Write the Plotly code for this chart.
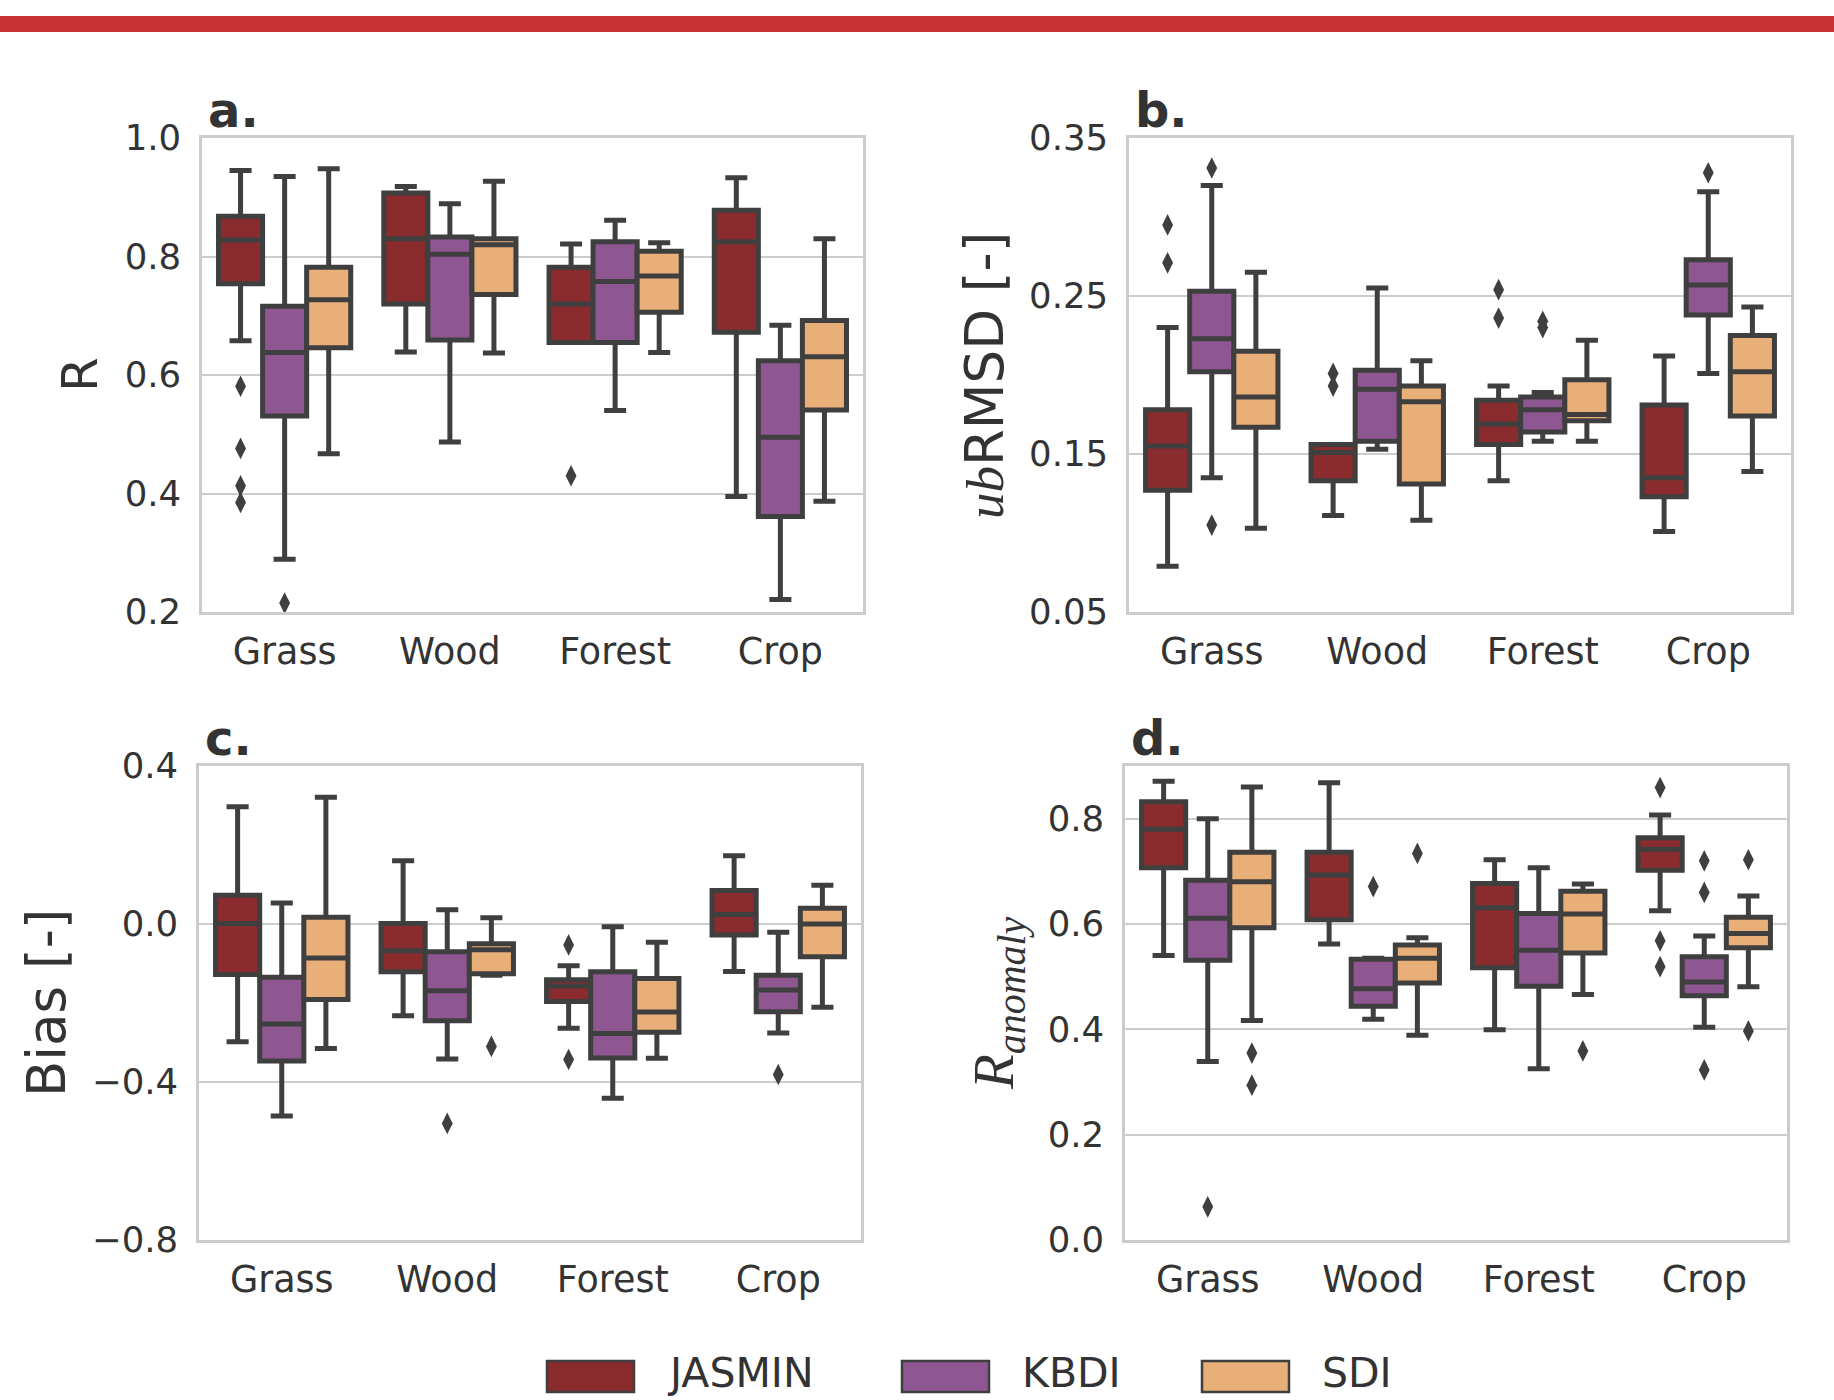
import plotly.graph_objects as go

W, H = 1834, 1400

CATEGORIES = ["Grass", "Wood", "Forest", "Crop"]
MODELS = ["JASMIN", "KBDI", "SDI"]
COLORS = ["#8a2c2e", "#8f5792", "#e9af79"]

# ---- panel a: R  (rows: JASMIN, KBDI, SDI; columns: categories)
R_LOW = [[0.658, 0.639, 0.655, 0.395], [0.289, 0.487, 0.540, 0.221], [0.467, 0.637, 0.638, 0.387]]
R_Q1 = [[0.754, 0.720, 0.655, 0.672], [0.531, 0.659, 0.655, 0.361], [0.646, 0.736, 0.706, 0.541]]
R_MED = [[0.828, 0.830, 0.720, 0.825], [0.638, 0.804, 0.758, 0.495], [0.727, 0.820, 0.767, 0.631]]
R_Q3 = [[0.868, 0.907, 0.782, 0.878], [0.716, 0.833, 0.825, 0.624], [0.782, 0.830, 0.809, 0.692]]
R_HIGH = [[0.945, 0.918, 0.821, 0.933], [0.935, 0.889, 0.861, 0.684], [0.948, 0.927, 0.823, 0.830]]
R_OUT = [
    [[0.581, 0.476, 0.413, 0.385], [], [0.430], []],
    [[0.215], [], [], []],
    [[], [], [], []],
]

# ---- panel b: ubRMSD
U_LOW = [[0.079, 0.111, 0.133, 0.101], [0.135, 0.153, 0.158, 0.201], [0.103, 0.108, 0.158, 0.139]]
U_Q1 = [[0.127, 0.133, 0.156, 0.123], [0.202, 0.158, 0.164, 0.238], [0.167, 0.131, 0.171, 0.174]]
U_MED = [[0.155, 0.151, 0.169, 0.135], [0.223, 0.191, 0.178, 0.257], [0.186, 0.183, 0.175, 0.202]]
U_Q3 = [[0.178, 0.156, 0.184, 0.181], [0.253, 0.203, 0.186, 0.273], [0.215, 0.193, 0.197, 0.225]]
U_HIGH = [[0.230, 0.156, 0.193, 0.212], [0.320, 0.255, 0.189, 0.316], [0.265, 0.209, 0.222, 0.243]]
U_OUT = [
    [[0.295, 0.271], [0.201, 0.193], [0.254, 0.236], []],
    [[0.331, 0.105], [], [0.234, 0.230], [0.328]],
    [[], [], [], []],
]

# ---- panel c: Bias
B_LOW = [[-0.298, -0.232, -0.264, -0.120], [-0.486, -0.342, -0.441, -0.276], [-0.315, -0.130, -0.340, -0.211]]
B_Q1 = [[-0.128, -0.121, -0.196, -0.028], [-0.347, -0.245, -0.339, -0.222], [-0.191, -0.126, -0.274, -0.083]]
B_MED = [[0.001, -0.068, -0.157, 0.024], [-0.253, -0.169, -0.277, -0.167], [-0.086, -0.065, -0.223, 0.000]]
B_Q3 = [[0.073, 0.001, -0.141, 0.085], [-0.135, -0.070, -0.121, -0.130], [0.017, -0.050, -0.138, 0.040]]
B_HIGH = [[0.297, 0.160, -0.106, 0.173], [0.053, 0.036, -0.007, -0.021], [0.321, 0.016, -0.046, 0.098]]
B_OUT = [
    [[], [], [-0.053, -0.343], []],
    [[], [-0.505], [], [-0.381]],
    [[], [-0.310], [], []],
]

# ---- panel d: R anomaly
A_LOW = [[0.540, 0.562, 0.399, 0.625], [0.339, 0.419, 0.325, 0.404], [0.417, 0.389, 0.466, 0.481]]
A_Q1 = [[0.707, 0.608, 0.517, 0.702], [0.531, 0.444, 0.482, 0.464], [0.593, 0.488, 0.545, 0.555]]
A_MED = [[0.780, 0.693, 0.631, 0.742], [0.611, 0.477, 0.550, 0.490], [0.680, 0.535, 0.619, 0.582]]
A_Q3 = [[0.832, 0.736, 0.677, 0.764], [0.683, 0.533, 0.620, 0.538], [0.736, 0.560, 0.662, 0.613]]
A_HIGH = [[0.871, 0.868, 0.722, 0.807], [0.800, 0.535, 0.707, 0.577], [0.860, 0.574, 0.676, 0.653]]
A_OUT = [
    [[], [], [], [0.859, 0.568, 0.519]],
    [[0.063], [0.671], [], [0.720, 0.660, 0.323]],
    [[0.355, 0.294], [0.734], [0.359], [0.722, 0.397]],
]

R_TICKS = [0.2, 0.4, 0.6, 0.8, 1.0]
U_TICKS = [0.05, 0.15, 0.25, 0.35]
B_TICKS = [-0.8, -0.4, 0.0, 0.4]
A_TICKS = [0.0, 0.2, 0.4, 0.6, 0.8]

EDGE = "#3f3f3f"
GRID = "#cccccc"
TXT = "#333333"
FONT = "DejaVu Sans"


def px_x(p):
    return p / W


def px_y(p):
    return 1 - p / H


panels = [
    dict(ax="", low=R_LOW, q1=R_Q1, med=R_MED, q3=R_Q3, high=R_HIGH, out=R_OUT,
         xd=(202, 863), yd=(138, 612), rng=(0.2, 1.0), ticks=R_TICKS, fmt="{:.1f}",
         letter="a.", title="R", tx=80, tsize=50),
    dict(ax="2", low=U_LOW, q1=U_Q1, med=U_MED, q3=U_Q3, high=U_HIGH, out=U_OUT,
         xd=(1129, 1791), yd=(138, 612), rng=(0.05, 0.35), ticks=U_TICKS, fmt="{:.2f}",
         letter="b.",
         title="<span style='font-family:Liberation Serif'><i>ub</i></span>RMSD [-]",
         tx=985, tsize=53),
    dict(ax="3", low=B_LOW, q1=B_Q1, med=B_MED, q3=B_Q3, high=B_HIGH, out=B_OUT,
         xd=(199, 861), yd=(766, 1240), rng=(-0.8, 0.4), ticks=B_TICKS, fmt="{:.1f}",
         letter="c.", title="Bias [-]", tx=46, tsize=53),
    dict(ax="4", low=A_LOW, q1=A_Q1, med=A_MED, q3=A_Q3, high=A_HIGH, out=A_OUT,
         xd=(1125, 1787), yd=(766, 1240), rng=(0.0, 0.9), ticks=A_TICKS, fmt="{:.1f}",
         letter="d.",
         title="<span style='font-family:Liberation Serif'><i>R</i><sub><i>anomaly</i></sub></span>",
         tx=998, tsize=57),
]

fig = go.Figure()
BW = 0.8 / 3
annotations = []
shapes = []

for p in panels:
    xa = "x" + p["ax"]
    ya = "y" + p["ax"]
    for k, model in enumerate(MODELS):
        xs = [i + (k - 1) * BW for i in range(len(CATEGORIES))]
        fig.add_trace(go.Box(
            x=xs, q1=p["q1"][k], median=p["med"][k], q3=p["q3"][k],
            lowerfence=p["low"][k], upperfence=p["high"][k],
            width=BW, whiskerwidth=0.5,
            fillcolor=COLORS[k], line=dict(color=EDGE, width=5),
            boxpoints=False, name=model, showlegend=False, hoverinfo="skip",
            xaxis=xa, yaxis=ya,
        ))
        ox, oy = [], []
        for i, vals in enumerate(p["out"][k]):
            for v in vals:
                ox.append(xs[i])
                oy.append(v)
        if ox:
            fig.add_trace(go.Scatter(
                x=ox, y=oy, mode="markers",
                marker=dict(symbol="diamond-tall", size=15.5, color=EDGE),
                showlegend=False, hoverinfo="skip", xaxis=xa, yaxis=ya,
            ))
    xkey = "xaxis" + p["ax"]
    ykey = "yaxis" + p["ax"]
    fig.layout[xkey] = dict(
        domain=[px_x(p["xd"][0]), px_x(p["xd"][1])], anchor=ya,
        range=[-0.5, len(CATEGORIES) - 0.5], automargin=False,
        tickmode="array", tickvals=list(range(len(CATEGORIES))), ticktext=CATEGORIES,
        showgrid=False, zeroline=False, showline=True, mirror=True,
        linecolor=GRID, linewidth=2.5, ticks="", ticklabelstandoff=5,
        tickfont=dict(family=FONT, size=36.5, color=TXT),
    )
    fig.layout[ykey] = dict(
        domain=[px_y(p["yd"][1]), px_y(p["yd"][0])], anchor=xa,
        range=list(p["rng"]), automargin=False,
        tickmode="array", tickvals=p["ticks"],
        ticktext=[p["fmt"].format(t).replace("-", "\u2212") for t in p["ticks"]],
        showgrid=True, gridcolor=GRID, gridwidth=2, zeroline=False,
        showline=True, mirror=True, linecolor=GRID, linewidth=2.5,
        ticks="", ticklabelstandoff=11,
        tickfont=dict(family=FONT, size=35.5, color=TXT),
    )
    # panel letter
    annotations.append(dict(
        text="<b>" + p["letter"] + "</b>", xref="paper", yref="paper",
        x=px_x(p["xd"][0] + 4), y=px_y(p["yd"][0] + 2), xanchor="left", yanchor="bottom",
        showarrow=False, font=dict(family=FONT, size=48, color=TXT),
    ))
    # y title
    annotations.append(dict(
        text=p["title"], xref="paper", yref="paper",
        x=px_x(p["tx"]), y=px_y((p["yd"][0] + p["yd"][1]) / 2),
        xanchor="center", yanchor="middle", textangle=-90,
        showarrow=False, font=dict(family=FONT, size=p["tsize"], color=TXT),
    ))

# top red band
shapes.append(dict(type="rect", xref="paper", yref="paper",
                   x0=0, x1=1, y0=px_y(32), y1=px_y(16),
                   fillcolor="#c83232", line=dict(width=0), layer="above"))

# legend
LEG_PATCH_X = [547, 902, 1202]
for k, model in enumerate(MODELS):
    x0 = LEG_PATCH_X[k]
    shapes.append(dict(type="rect", xref="paper", yref="paper",
                       x0=px_x(x0), x1=px_x(x0 + 87), y0=px_y(1392), y1=px_y(1361),
                       fillcolor=COLORS[k], line=dict(color=EDGE, width=2.5)))
    annotations.append(dict(
        text=model, xref="paper", yref="paper",
        x=px_x(x0 + 118), y=px_y(1373), xanchor="left", yanchor="middle",
        showarrow=False, font=dict(family=FONT, size=41, color=TXT),
    ))

fig.update_layout(
    width=W, height=H, margin=dict(l=0, r=0, t=0, b=0, pad=0),
    paper_bgcolor="white", plot_bgcolor="white",
    boxmode="overlay", showlegend=False,
    annotations=annotations, shapes=shapes,
)

fig.write_html("out.html", config={"displayModeBar": False},
               post_script="document.body.style.margin='0';document.body.style.overflow='hidden';")
